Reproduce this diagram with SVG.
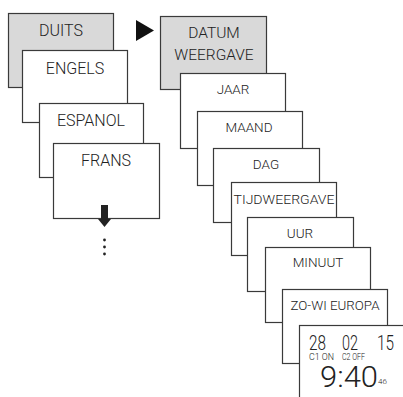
<svg xmlns="http://www.w3.org/2000/svg" width="403" height="397" viewBox="0 0 403 397">
<style>
.b{fill:#fff;stroke:#3a3a3a;stroke-width:1.2}
.g{fill:#d9d9d9;stroke:#3a3a3a;stroke-width:1.2}
text{font-family:Roboto,"Liberation Sans",sans-serif;font-weight:300;fill:#222;text-anchor:middle}
.l{font-size:16px}
.r{font-size:13.5px}
.s{font-size:9px;text-anchor:start}
.d{font-size:19.5px;text-anchor:start}
</style>
<rect width="403" height="397" fill="#fff"/>
<g id="duits"><rect class="g" x="8.5" y="13.5" width="105" height="74"/><text class="l" x="61" y="36">DUITS</text></g>
<g id="engels"><rect class="b" x="22.5" y="50.5" width="105" height="72"/><text class="l" x="75" y="74">ENGELS</text></g>
<g id="espanol"><rect class="b" x="39.5" y="103.5" width="104" height="74"/><text class="l" x="91" y="126">ESPANOL</text></g>
<g id="frans"><rect class="b" x="53.5" y="143.5" width="106" height="75"/><text class="l" x="106" y="166">FRANS</text></g>
<g id="connectors">
<polygon points="136,20 154,30.5 136,41" fill="#111"/>
<polygon points="101,205 108,205 108,219 111,219 104.5,227 98,219 101,219" fill="#222"/>
<circle cx="104.5" cy="240" r="1.4" fill="#222"/>
<circle cx="104.5" cy="247" r="1.4" fill="#222"/>
<circle cx="104.5" cy="254" r="1.4" fill="#222"/>
</g>
<g id="datum"><rect class="g" x="160.5" y="16.5" width="106" height="73"/><text class="l" x="214" y="38" style="font-size:15.5px">DATUM</text><text class="l" x="214" y="60" style="font-size:15.5px">WEERGAVE</text></g>
<g id="jaar"><rect class="b" x="180.5" y="73.5" width="105" height="75"/><text class="r" x="233" y="94">JAAR</text></g>
<g id="maand"><rect class="b" x="197.5" y="111.5" width="105" height="74"/><text class="r" x="249" y="132">MAAND</text></g>
<g id="dag"><rect class="b" x="213.5" y="148.5" width="106" height="74"/><text class="r" x="266" y="169">DAG</text></g>
<g id="tijd"><rect class="b" x="231.5" y="182.5" width="105" height="73"/><text class="r" x="284" y="204" textLength="101" lengthAdjust="spacingAndGlyphs">TIJDWEERGAVE</text></g>
<g id="uur"><rect class="b" x="247.5" y="217.5" width="106" height="74"/><text class="r" x="300" y="238">UUR</text></g>
<g id="minuut"><rect class="b" x="265.5" y="247.5" width="105" height="75"/><text class="r" x="318" y="267">MINUUT</text></g>
<g id="zowi"><rect class="b" x="282.5" y="289.5" width="105" height="74"/><text class="r" x="335" y="310" textLength="89" lengthAdjust="spacingAndGlyphs">ZO-WI EUROPA</text></g>
<g id="clock"><rect class="b" x="299.5" y="325.5" width="120" height="90"/>
<text class="d" x="309" y="350" textLength="17" lengthAdjust="spacingAndGlyphs">28</text>
<text class="d" x="342" y="350" textLength="16" lengthAdjust="spacingAndGlyphs">02</text>
<text class="d" x="377" y="350" textLength="17" lengthAdjust="spacingAndGlyphs">15</text>
<text class="s" x="309" y="359.5" textLength="25" lengthAdjust="spacingAndGlyphs">C1 ON</text>
<text class="s" x="342" y="359.5" textLength="23" lengthAdjust="spacingAndGlyphs">C2 OFF</text>
<text style="font-size:29.5px;text-anchor:start" x="320" y="387" textLength="58" lengthAdjust="spacingAndGlyphs">9:40</text>
<text class="s" style="font-size:8px" x="378" y="384">46</text>
</g>
</svg>
